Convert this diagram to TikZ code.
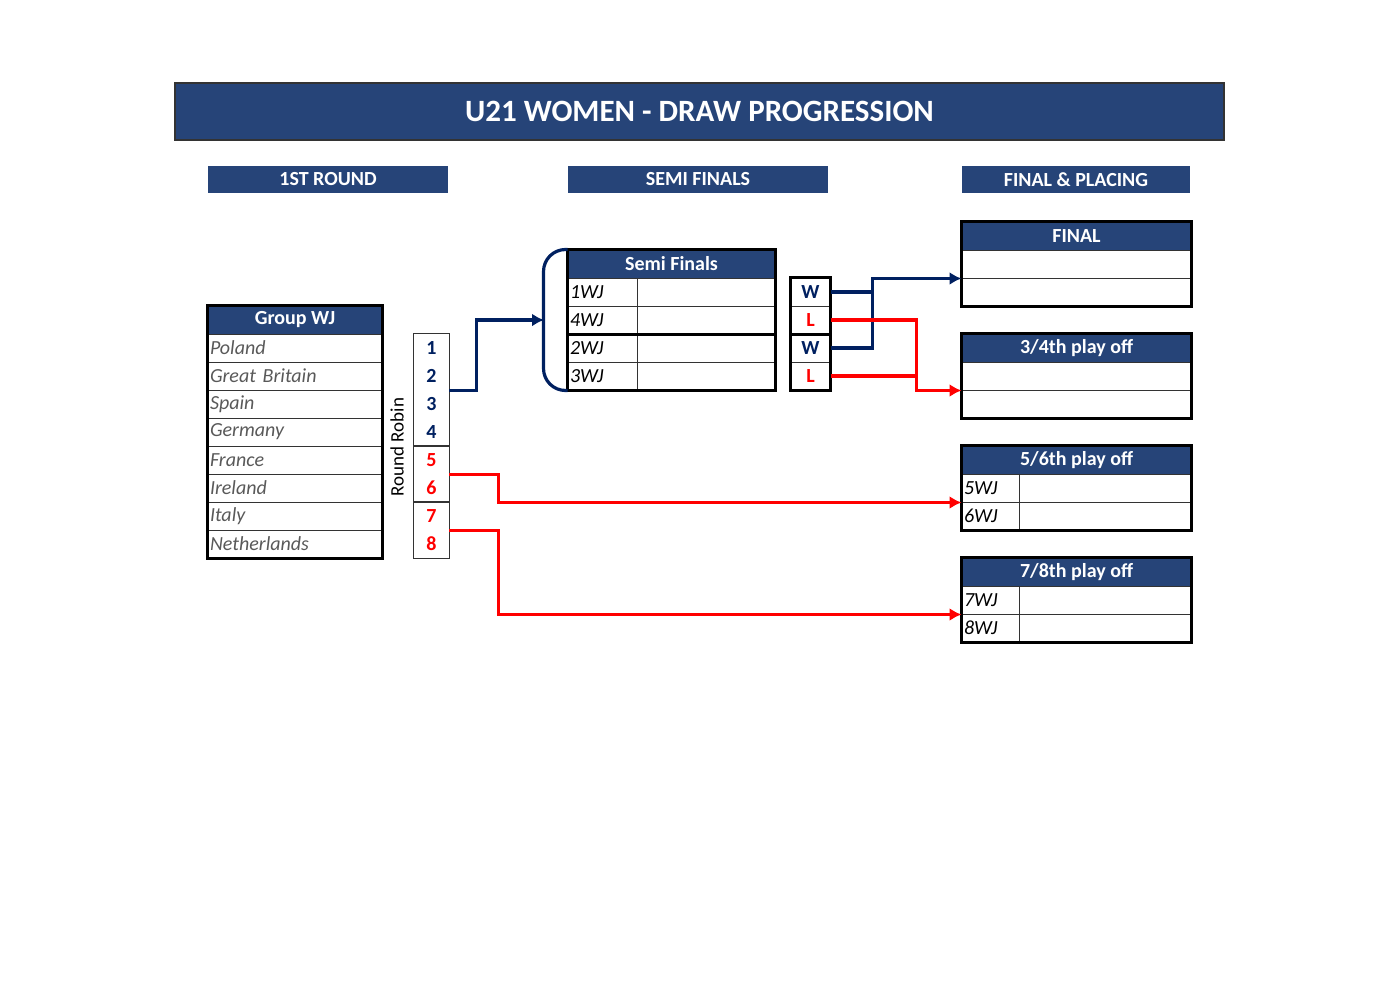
\documentclass[tikz,border=0pt]{standalone}
\usepackage{fontspec}
\setmainfont{Carlito}
\usetikzlibrary{arrows.meta}
\definecolor{hdrblue}{HTML}{264478}
\definecolor{linkblue}{HTML}{002060}
\definecolor{linkred}{HTML}{FF0000}
\definecolor{teamgray}{HTML}{595959}
\begin{document}
\begin{tikzpicture}[x=0.5pt,y=-0.5pt,
		font=\fontsize{10.5}{12}\selectfont]
		\tikzstyle{titlebar}=[fill=hdrblue,draw=black!80,line width=0.7pt,text=white,
			minimum width=524.5pt,minimum height=28.5pt,font=\fontsize{15.5}{18}\selectfont\bfseries];
		\tikzstyle{sect}=[fill=hdrblue,text=white,font=\bfseries,inner sep=0pt,minimum height=13.5pt];
		\tikzstyle{hdr}=[fill=hdrblue,draw=black!80,line width=0.5pt,text=white,font=\bfseries,inner sep=0pt,minimum height=14pt];
		\tikzstyle{cell}=[draw=black!80,line width=0.5pt,inner sep=0pt,minimum height=14pt];
		\tikzstyle{team}=[cell,text width=85pt,inner xsep=1pt,align=left,font=\itshape,text=teamgray];
		\tikzstyle{lbl}=[cell,font=\itshape,inner xsep=1pt,align=left];
		\tikzstyle{rank}=[inner sep=0pt,minimum width=17.5pt,minimum height=14pt,font=\bfseries];
		\tikzstyle{wl}=[cell,minimum width=19.5pt,font=\bfseries];
		\tikzstyle{boxline}=[line width=1.5pt,black];
		\tikzstyle{thinbox}=[line width=0.5pt,black!80];
		\tikzstyle{bluelink}=[line width=1.6pt,linkblue];
		\tikzstyle{redlink}=[line width=1.6pt,linkred];
		\tikzstyle{tip}=[-{Latex[length=6pt,width=6.5pt]}];
		\useasboundingbox (0,0) rectangle (1400,990);
		% headings
		\node[titlebar] (ttl) at (699.5,111.5) {U21 WOMEN - DRAW PROGRESSION};
		\node[sect,minimum width=120pt] (r1) at (328,179.5) {1ST ROUND};
		\node[sect,minimum width=130pt] (sf) at (698,179.5) {SEMI FINALS};
		\node[sect,minimum width=114pt] (fp) at (1076,179.5) {FINAL \& PLACING};
		% group
		\node[hdr,minimum width=87pt] (gwj) at (295,320) {Group WJ};
		\node[team] (pol) at (295,348) {Poland};
		\node[team] (gbr) at (295,376) {Great Britain};
		\node[team] (esp) at (295,404) {Spain};
		\node[team] (ger) at (295,432) {Germany};
		\node[team] (fra) at (295,460) {France};
		\node[team] (irl) at (295,488) {Ireland};
		\node[team] (ita) at (295,516) {Italy};
		\node[team] (ned) at (295,544) {Netherlands};
		\draw[boxline] (gwj.north west) rectangle (ned.south east);
		% round robin
		\node[rank,text=linkblue] (rr1) at (431.5,348) {1};
		\node[rank,text=linkblue] (rr2) at (431.5,376) {2};
		\node[rank,text=linkblue] (rr3) at (431.5,404) {3};
		\node[rank,text=linkblue] (rr4) at (431.5,432) {4};
		\node[rank,text=linkred] (rr5) at (431.5,460) {5};
		\node[rank,text=linkred] (rr6) at (431.5,488) {6};
		\node[rank,text=linkred] (rr7) at (431.5,516) {7};
		\node[rank,text=linkred] (rr8) at (431.5,544) {8};
		\draw[thinbox] (rr1.north west) rectangle (rr4.south east);
		\draw[thinbox] (rr5.north west) rectangle (rr6.south east);
		\draw[thinbox] (rr7.north west) rectangle (rr8.south east);
		\node[rotate=90,font=\fontsize{9.5}{11}\selectfont] (rrl) at (397,447) {Round Robin};
		% semi finals
		\node[hdr,minimum width=103.5pt] (sfh) at (671.5,264) {Semi Finals};
		\node[lbl,text width=32.5pt] (s1) at (602.5,292) {1WJ};
		\node[lbl,text width=32.5pt] (s2) at (602.5,320) {4WJ};
		\node[lbl,text width=32.5pt] (s3) at (602.5,348) {2WJ};
		\node[lbl,text width=32.5pt] (s4) at (602.5,376) {3WJ};
		\node[cell,minimum width=69pt] (s1v) at (706,292) {};
		\node[cell,minimum width=69pt] (s2v) at (706,320) {};
		\node[cell,minimum width=69pt] (s3v) at (706,348) {};
		\node[cell,minimum width=69pt] (s4v) at (706,376) {};
		\draw[boxline] (sfh.north west) rectangle (s4v.south east);
		\draw[boxline] (s2.south west) -- (s2v.south east);
		\coordinate (brc) at (544,320);
		\draw[bluelink,rounded corners=11pt] (sfh.north west) -- ++(-24,0) |- (s4.south west);
		% winners and losers
		\node[wl,text=linkblue] (w1) at (810.5,292) {W};
		\node[wl,text=linkred] (l1) at (810.5,320) {L};
		\node[wl,text=linkblue] (w2) at (810.5,348) {W};
		\node[wl,text=linkred] (l2) at (810.5,376) {L};
		\draw[boxline] (w1.north west) rectangle (l2.south east);
		\draw[boxline] (l1.south west) -- (l1.south east);
		% final
		\node[hdr,minimum width=114.5pt] (finh) at (1076.5,236) {FINAL};
		\node[cell,minimum width=114.5pt] (fin1) at (1076.5,264) {};
		\node[cell,minimum width=114.5pt] (fin2) at (1076.5,292) {};
		\draw[boxline] (finh.north west) rectangle (fin2.south east);
		% 3/4
		\node[hdr,minimum width=114.5pt] (tph) at (1076.5,348) {3/4th play off};
		\node[cell,minimum width=114.5pt] (tp1) at (1076.5,376) {};
		\node[cell,minimum width=114.5pt] (tp2) at (1076.5,404) {};
		\draw[boxline] (tph.north west) rectangle (tp2.south east);
		% 5/6
		\node[hdr,minimum width=114.5pt] (ffh) at (1076.5,460) {5/6th play off};
		\node[lbl,text width=26.5pt] (ff1) at (990.5,488) {5WJ};
		\node[lbl,text width=26.5pt] (ff2) at (990.5,516) {6WJ};
		\node[cell,minimum width=86pt] (ff1v) at (1105,488) {};
		\node[cell,minimum width=86pt] (ff2v) at (1105,516) {};
		\draw[boxline] (ffh.north west) rectangle (ff2v.south east);
		% 7/8
		\node[hdr,minimum width=114.5pt] (seh) at (1076.5,572) {7/8th play off};
		\node[lbl,text width=26.5pt] (se1) at (990.5,600) {7WJ};
		\node[lbl,text width=26.5pt] (se2) at (990.5,628) {8WJ};
		\node[cell,minimum width=86pt] (se1v) at (1105,600) {};
		\node[cell,minimum width=86pt] (se2v) at (1105,628) {};
		\draw[boxline] (seh.north west) rectangle (se2v.south east);
		% links
		\draw[bluelink,tip] (rr2.south east) -- ++(27,0) |- (brc);
		\draw[bluelink] (w1.east) -- ++(42,0);
		\draw[bluelink,tip] (w2.east) -- ++(42,0) |- (fin1.south west);
		\draw[redlink] (l2.east) -- ++(86,0);
		\draw[redlink,tip] (l1.east) -- ++(86,0) |- (tp1.south west);
		\draw[redlink,tip] (rr5.south east) -- ++(49,0) |- (ff1.south west);
		\draw[redlink,tip] (rr7.south east) -- ++(49,0) |- (se1.south west);
\end{tikzpicture}
\end{document}
